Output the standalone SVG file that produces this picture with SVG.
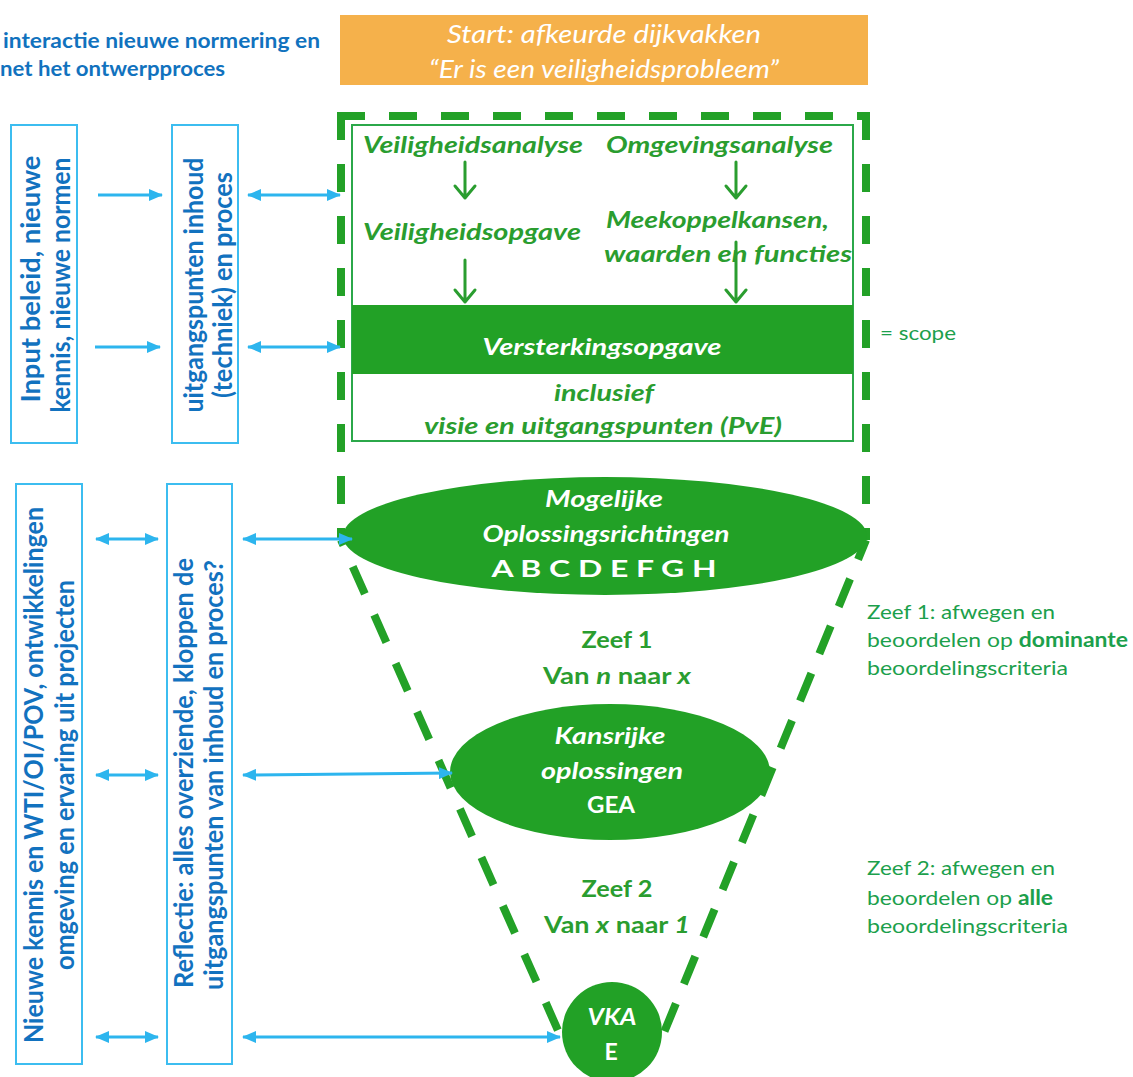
<svg xmlns="http://www.w3.org/2000/svg" width="1133" height="1077" viewBox="0 0 1133 1077">
<defs>
<style>
text{font-family:Lato,"Open Sans","Liberation Sans",sans-serif}
.title{font-size:21px;font-weight:bold;fill:#1172BE}
.vt{font-size:26px;font-weight:bold;fill:#1272BF;text-anchor:middle}
.lbox{fill:none;stroke:#3CBDF0;stroke-width:2}
.gi{font-size:22px;font-weight:bold;font-style:italic;fill:#2A9D2F}
.wi{font-size:23px;font-weight:bold;font-style:italic;fill:#FFFFFF;text-anchor:middle}
.wb{font-size:23px;font-weight:bold;fill:#FFFFFF;text-anchor:middle}
.gb{font-size:23px;font-weight:bold;fill:#2A9D2F;text-anchor:middle}
.rt{font-size:20px;fill:#1CA04C}
.blue{stroke:#2DB5EE;stroke-width:3;fill:none}
.garr{stroke:#2A9D2F;stroke-width:3;fill:none;stroke-linecap:round;stroke-linejoin:round}
.dash{fill:none;stroke:#23A127;stroke-width:8;stroke-dasharray:28 24}
.gfill{fill:#22A126}
</style>
<marker id="ah" viewBox="0 0 14 12" refX="13" refY="6" markerWidth="14" markerHeight="12" markerUnits="userSpaceOnUse" orient="auto-start-reverse">
<path d="M0,0 L14,6 L0,12 z" fill="#2DB5EE"/>
</marker>
</defs>
<rect width="1133" height="1077" fill="#FFFFFF"/>

<g id="title">
<text class="title" x="3" y="48" textLength="317" lengthAdjust="spacingAndGlyphs">interactie nieuwe normering en</text>
<text class="title" x="0" y="76" textLength="225" lengthAdjust="spacingAndGlyphs">net het ontwerpproces</text>
</g>

<g id="start">
<rect x="340" y="15" width="528" height="70" fill="#F5B14B"/>
<text x="604" y="43" font-size="25" font-style="italic" fill="#FFFFFF" text-anchor="middle" textLength="314" lengthAdjust="spacingAndGlyphs">Start: afkeurde dijkvakken</text>
<text x="604" y="78" font-size="25" font-style="italic" fill="#FFFFFF" text-anchor="middle" textLength="350" lengthAdjust="spacingAndGlyphs">“Er is een veiligheidsprobleem”</text>
</g>

<g id="input-box">
<rect class="lbox" x="11" y="125" width="66" height="318"/>
<text class="vt" transform="translate(40,279) rotate(-90)" textLength="247" lengthAdjust="spacingAndGlyphs">Input  beleid, nieuwe</text>
<text class="vt" transform="translate(70,285) rotate(-90)" textLength="255" lengthAdjust="spacingAndGlyphs">kennis, nieuwe normen</text>
</g>

<g id="uitgangspunten-box">
<rect class="lbox" x="172" y="125" width="66" height="318"/>
<text class="vt" transform="translate(203,285) rotate(-90)" textLength="255" lengthAdjust="spacingAndGlyphs">uitgangspunten inhoud</text>
<text class="vt" transform="translate(232,285) rotate(-90)" textLength="226" lengthAdjust="spacingAndGlyphs">(techniek) en proces</text>
</g>

<g id="kennis-box">
<rect class="lbox" x="16" y="484" width="66" height="580"/>
<text class="vt" transform="translate(43,775) rotate(-90)" textLength="536" lengthAdjust="spacingAndGlyphs">Nieuwe kennis en  WTI/OI/POV, ontwikkelingen</text>
<text class="vt" transform="translate(74,775) rotate(-90)" textLength="390" lengthAdjust="spacingAndGlyphs">omgeving en ervaring uit projecten</text>
</g>

<g id="reflectie-box">
<rect class="lbox" x="167" y="484" width="65" height="580"/>
<text class="vt" transform="translate(193,773) rotate(-90)" textLength="430" lengthAdjust="spacingAndGlyphs">Reflectie: alles overziende, kloppen de</text>
<text class="vt" transform="translate(223,775) rotate(-90)" textLength="430" lengthAdjust="spacingAndGlyphs">uitgangspunten van inhoud en proces?</text>
</g>

<g id="funnel">
<path class="dash" d="M341,112 V540"/>
<path class="dash" d="M337,116 H870"/>
<path class="dash" d="M866,112 V540"/>
<path class="dash" d="M341,540 L560,1035" style="stroke-dasharray:30 23;stroke-dashoffset:24"/>
<path class="dash" d="M866,540 L663,1035" style="stroke-dasharray:30 21;stroke-dashoffset:9"/>
</g>

<g id="scope-box">
<rect x="352" y="125" width="501" height="316" fill="none" stroke="#2BA84A" stroke-width="2"/>
<rect class="gfill" x="352" y="305" width="501" height="69"/>
<text class="gi" x="363" y="153" textLength="220" lengthAdjust="spacingAndGlyphs">Veiligheidsanalyse</text>
<text class="gi" x="606" y="153" textLength="227" lengthAdjust="spacingAndGlyphs">Omgevingsanalyse</text>
<text class="gi" x="363" y="240" textLength="218" lengthAdjust="spacingAndGlyphs">Veiligheidsopgave</text>
<text class="gi" x="606" y="228" textLength="223" lengthAdjust="spacingAndGlyphs">Meekoppelkansen,</text>
<text class="gi" x="604" y="262" textLength="248" lengthAdjust="spacingAndGlyphs">waarden en functies</text>
<text class="wi" x="602" y="355" font-weight="normal" textLength="239" lengthAdjust="spacingAndGlyphs">Versterkingsopgave</text>
<text class="gi" x="604" y="401" text-anchor="middle" textLength="100" lengthAdjust="spacingAndGlyphs">inclusief</text>
<text class="gi" x="603" y="434" text-anchor="middle" textLength="358" lengthAdjust="spacingAndGlyphs">visie en uitgangspunten  (PvE)</text>
</g>

<g id="scope-label">
<text class="rt" x="880" y="340" textLength="76" lengthAdjust="spacingAndGlyphs">= scope</text>
</g>

<g id="mogelijke">
<ellipse class="gfill" cx="605" cy="536" rx="262" ry="59"/>
<text class="wi" x="604" y="507" textLength="118" lengthAdjust="spacingAndGlyphs">Mogelijke</text>
<text class="wi" x="606" y="542" textLength="247" lengthAdjust="spacingAndGlyphs">Oplossingsrichtingen</text>
<text class="wb" x="604" y="577" textLength="225" lengthAdjust="spacingAndGlyphs">A B C D E F G H</text>
</g>

<g id="zeef1">
<text class="gb" x="617" y="648" textLength="71" lengthAdjust="spacingAndGlyphs">Zeef 1</text>
<text class="gb" x="617" y="684" textLength="148" lengthAdjust="spacingAndGlyphs">Van <tspan font-style="italic">n</tspan> naar <tspan font-style="italic">x</tspan></text>
</g>

<g id="kansrijke">
<ellipse class="gfill" cx="610" cy="772" rx="160" ry="68"/>
<text class="wi" x="610" y="744" textLength="111" lengthAdjust="spacingAndGlyphs">Kansrijke</text>
<text class="wi" x="612" y="779" textLength="142" lengthAdjust="spacingAndGlyphs">oplossingen</text>
<text class="wb" x="611" y="813" textLength="48" lengthAdjust="spacingAndGlyphs">GEA</text>
</g>

<g id="zeef2">
<text class="gb" x="617" y="897" textLength="71" lengthAdjust="spacingAndGlyphs">Zeef 2</text>
<text class="gb" x="617" y="933" textLength="146" lengthAdjust="spacingAndGlyphs">Van <tspan font-style="italic">x</tspan> naar <tspan font-style="italic">1</tspan></text>
</g>

<g id="vka">
<circle class="gfill" cx="612" cy="1032" r="50"/>
<text class="wi" x="612" y="1025" textLength="49" lengthAdjust="spacingAndGlyphs">VKA</text>
<text class="wb" x="611" y="1060">E</text>
</g>

<g id="zeef1-note">
<text class="rt" x="867" y="619" textLength="188" lengthAdjust="spacingAndGlyphs">Zeef 1: afwegen en</text>
<text class="rt" x="867" y="647" textLength="261" lengthAdjust="spacingAndGlyphs">beoordelen op <tspan font-weight="bold">dominante</tspan></text>
<text class="rt" x="867" y="675" textLength="201" lengthAdjust="spacingAndGlyphs">beoordelingscriteria</text>
</g>

<g id="zeef2-note">
<text class="rt" x="867" y="875" textLength="188" lengthAdjust="spacingAndGlyphs">Zeef 2: afwegen en</text>
<text class="rt" x="867" y="905" textLength="186" lengthAdjust="spacingAndGlyphs">beoordelen op <tspan font-weight="bold">alle</tspan></text>
<text class="rt" x="867" y="933" textLength="201" lengthAdjust="spacingAndGlyphs">beoordelingscriteria</text>
</g>

<g id="connectors">
<line class="blue" x1="98" y1="195" x2="162" y2="195" marker-end="url(#ah)"/>
<line class="blue" x1="95" y1="347" x2="160" y2="347" marker-end="url(#ah)"/>
<line class="blue" x1="248" y1="195" x2="340" y2="195" marker-start="url(#ah)" marker-end="url(#ah)"/>
<line class="blue" x1="248" y1="347" x2="340" y2="347" marker-start="url(#ah)" marker-end="url(#ah)"/>
<line class="blue" x1="96" y1="539" x2="158" y2="539" marker-start="url(#ah)" marker-end="url(#ah)"/>
<line class="blue" x1="96" y1="775" x2="158" y2="775" marker-start="url(#ah)" marker-end="url(#ah)"/>
<line class="blue" x1="96" y1="1037" x2="158" y2="1037" marker-start="url(#ah)" marker-end="url(#ah)"/>
<line class="blue" x1="243" y1="539" x2="352" y2="539" marker-start="url(#ah)" marker-end="url(#ah)"/>
<line class="blue" x1="243" y1="775" x2="452" y2="773" marker-start="url(#ah)" marker-end="url(#ah)"/>
<line class="blue" x1="243" y1="1037" x2="560" y2="1037" marker-start="url(#ah)" marker-end="url(#ah)"/>
<path class="garr" d="M465,162 V198 M455,186 L465,198 L475,186"/>
<path class="garr" d="M736,162 V198 M726,186 L736,198 L746,186"/>
<path class="garr" d="M465,260 V302 M455,290 L465,302 L475,290"/>
<path class="garr" d="M736,242 V302 M726,290 L736,302 L746,290"/>
</g>
</svg>
